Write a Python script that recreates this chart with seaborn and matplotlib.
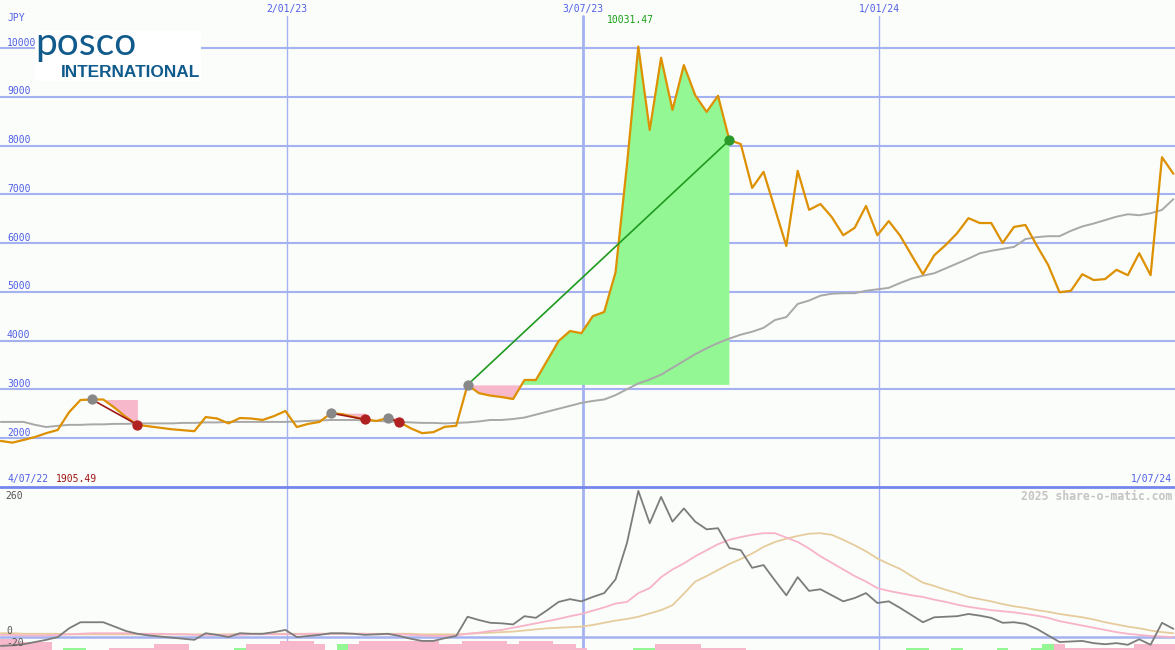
import numpy as np
import pandas as pd
import seaborn as sns
import matplotlib.pyplot as plt
from matplotlib.patches import Rectangle

# weekly closes, POSCO International (JPY)
weeks = pd.date_range('2022-07-10', periods=104, freq='7D')

price = [1940, 1905, 1960, 2020, 2100, 2165, 2530, 2780, 2790, 2790,
         2620, 2430, 2270, 2240, 2210, 2180, 2160, 2140, 2430, 2400,
         2300, 2410, 2400, 2370, 2450, 2555, 2225, 2290, 2330, 2510,
         2490, 2430, 2380, 2350, 2410, 2330, 2200, 2100, 2120, 2230,
         2250, 3090, 2920, 2870, 2840, 2800, 3190, 3190, 3590, 3990,
         4195, 4150, 4500, 4585, 5400, 7600, 10031.47, 8320, 9800, 8730,
         9650, 9030, 8690, 9020, 8110, 8030, 7130, 7460, 6700, 5940,
         7480, 6680, 6800, 6530, 6160, 6310, 6760, 6160, 6450, 6150,
         5750, 5360, 5750, 5960, 6200, 6510, 6410, 6410, 6000, 6330,
         6370, 5950, 5550, 4990, 5020, 5360, 5240, 5260, 5450, 5340,
         5790, 5340, 7760, 7420]

price_ma = [2330, 2330, 2330, 2270, 2225, 2250, 2270, 2270, 2280, 2280,
            2290, 2290, 2300, 2300, 2300, 2300, 2310, 2310, 2320, 2320,
            2330, 2330, 2330, 2330, 2330, 2330, 2340, 2350, 2360, 2370,
            2370, 2370, 2360, 2350, 2340, 2330, 2320, 2310, 2310, 2300,
            2310, 2320, 2340, 2370, 2370, 2390, 2420, 2480, 2540, 2600,
            2660, 2720, 2760, 2790, 2880, 3000, 3120, 3200, 3300, 3440,
            3580, 3720, 3840, 3950, 4040, 4120, 4180, 4260, 4420, 4480,
            4750, 4820, 4920, 4960, 4970, 4970, 5020, 5050, 5080, 5180,
            5270, 5330, 5380, 5480, 5580, 5680, 5790, 5840, 5880, 5920,
            6080, 6120, 6140, 6140, 6250, 6340, 6400, 6470, 6540, 6590,
            6570, 6610, 6680, 6900]

# lower panel indicator and its two averages
mom = [-17, -16, -14, -10, -6, -1, 15, 26, 26, 26,
       18, 10, 5, 2, 0, -2, -4, -6, 6, 3,
       -1, 6, 5, 5, 8, 12, -1, 1, 3, 6,
       6, 5, 3, 4, 5, 1, -4, -8, -8, -3,
       1, 36, 30, 25, 24, 22, 37, 34, 48, 63,
       68, 64, 72, 79, 104, 170, 265, 206, 254, 209,
       233, 209, 195, 197, 161, 157, 125, 130, 102, 75,
       108, 83, 86, 75, 64, 70, 79, 61, 64, 52,
       39, 26, 35, 36, 37, 41, 38, 34, 25, 26,
       23, 14, 2, -10, -9, -8, -12, -14, -12, -15,
       -5, -15, 25, 14]

mom_fast = [3, 3, 2, 2, 2, 3, 4, 5, 6, 6,
            6, 6, 5, 5, 5, 4, 4, 3, 3, 3,
            3, 3, 4, 4, 4, 4, 4, 5, 5, 5,
            5, 5, 5, 4, 4, 4, 3, 2, 1, 1,
            2, 5, 7, 10, 12, 16, 20, 24, 28, 32,
            37, 41, 47, 53, 60, 63, 79, 88, 108, 122,
            133, 146, 157, 168, 176, 181, 185, 188, 188, 180,
            172, 160, 146, 134, 122, 110, 100, 88, 83, 79,
            75, 72, 67, 63, 58, 54, 51, 48, 46, 44,
            41, 38, 34, 28, 24, 20, 16, 12, 8, 5,
            3, 1, 0, -1]

mom_slow = [6, 6, 5, 5, 5, 5, 4, 4, 4, 4,
            4, 4, 4, 4, 4, 4, 4, 4, 4, 4,
            4, 5, 5, 5, 5, 5, 5, 5, 5, 5,
            5, 5, 5, 5, 5, 5, 5, 4, 4, 4,
            4, 5, 6, 7, 8, 9, 11, 13, 15, 16,
            17, 18, 21, 25, 29, 32, 36, 42, 48, 57,
            78, 100, 110, 121, 132, 141, 151, 163, 172, 178,
            183, 187, 188, 185, 176, 166, 155, 142, 132, 123,
            110, 98, 92, 85, 79, 72, 68, 64, 59, 55,
            52, 48, 45, 41, 38, 35, 31, 26, 22, 18,
            15, 11, 8, 6]

# bottom strip blocks: top level and colour (p pink, g green, - none)
vol_top = [-4, -4, -10, -10, -10, None, -20, -20, None, None,
           -20, -20, -20, -20, -14, -14, -14, None, None, None,
           None, -20, -14, -14, -14, -8, -8, -8, -14, None,
           -14, -14, -8, -8, -8, -8, -8, -8, -8, -14,
           -14, -8, -8, -8, -8, -14, -8, -8, -8, -14,
           -14, -20, None, None, None, None, -20, -20, -14, -14,
           -14, -14, -20, -20, -20, -20, None, None, None, None,
           None, None, None, None, None, None, None, None, None, None,
           -20, -20, None, None, -20, None, None, None, -20, None,
           None, -20, -14, -14, -20, -20, -20, -20, -20, -20,
           -14, -14, -14, -14]
vol_col = ('ppppp-gg--pppppppp----pppppppp-ppppppppppppppppppppppp----'
           'pppppppppp--------------pp--g---g--ppppppppppppp')

trades = [(8, 12), (29, 32), (34, 35), (41, 64)]

grid_levels = [2000, 3000, 4000, 5000, 6000, 7000, 8000, 9000, 10000]
tick_dates = ['2023-01-02', '2023-07-03', '2024-01-01']
tick_labels = ['2/01/23', '3/07/23', '1/01/24']

W, H = 1175, 650
BG = '#fbfdfa'
GRID = '#a4b2f2'
BLUE_TXT = '#4f5fe6'
PINK_FILL = '#f8b8cc'
GREEN_FILL = '#93f793'


def fx(px):
    return px / W


def fy(py):
    return 1 - py / H


sns.set_style('white')
plt.rcParams['font.family'] = ['DejaVu Sans Mono', 'DejaVu Sans']

fig = plt.figure(figsize=(W / 100, H / 100), dpi=100)
fig.patch.set_facecolor(BG)
ax = fig.add_axes([0, fy(487), 1, 487 / H])
ax2 = fig.add_axes([0, 0, 1, fy(487)])

xlim = (pd.Timestamp('2022-07-09 12:00'), pd.Timestamp('2024-07-01'))
for a in (ax, ax2):
    a.set_facecolor(BG)
    a.set_xlim(*xlim)
    a.set_xticks([])
    a.set_yticks([])
    for s in a.spines.values():
        s.set_visible(False)

ax.set_ylim(995, 10985)
ax2.set_ylim(-24.5, 272)

# grid
for lv in grid_levels:
    ax.axhline(lv, color=GRID, lw=1.5, zorder=0)
    ax.annotate(str(lv), xy=(0, lv), xycoords=('axes fraction', 'data'),
                xytext=(5, 3.8), textcoords='offset points', va='center',
                fontsize=7, color=BLUE_TXT)
for d, lab in zip(tick_dates, tick_labels):
    lw = 2.0 if lab == '3/07/23' else 1.0
    ax.axvline(pd.Timestamp(d), ymax=(487 - 16) / 487, color=GRID, lw=lw, zorder=0)
    ax2.axvline(pd.Timestamp(d), color=GRID, lw=lw, zorder=0)
    ax.annotate(lab, xy=(pd.Timestamp(d), 1), xycoords=('data', 'axes fraction'),
                xytext=(0, -6.5), textcoords='offset points', ha='center',
                va='center', fontsize=7, color=BLUE_TXT)

# trades
price_s = pd.Series(price, index=weeks)
for e, x in trades:
    seg = price_s.iloc[e:x + 1]
    entry = price[e]
    ax.fill_between(seg.index, entry, seg.values, where=seg.values < entry,
                    interpolate=True, color=PINK_FILL, lw=0, zorder=1)
    ax.fill_between(seg.index, entry, seg.values, where=seg.values >= entry,
                    interpolate=True, color=GREEN_FILL, lw=0, zorder=1)

sns.lineplot(x=weeks, y=price_ma, ax=ax, color='#a8a8a8', lw=1.4, zorder=2)
sns.lineplot(x=weeks, y=price, ax=ax, color='#dd9000', lw=1.6, zorder=3)

for e, x in trades:
    win = price[x] > price[e]
    c = '#1f9a1f' if win else '#a01818'
    ax.plot([weeks[e], weeks[x]], [price[e], price[x]], color=c, lw=1.2, zorder=4)
    ax.scatter([weeks[e]], [price[e]], s=55, color='#888888', zorder=5, lw=0)
    ax.scatter([weeks[x]], [price[x]], s=55, color='#2a9a2a' if win else '#b02222',
               zorder=5, lw=0)

# lower panel
ax2.axhline(0, color=GRID, lw=1.8, zorder=0)
for i, (t, c) in enumerate(zip(vol_top, vol_col)):
    if t is None:
        continue
    ax2.bar(weeks[i], t + 24.5, bottom=-24.5, width=7, align='center',
            color=PINK_FILL if c == 'p' else GREEN_FILL, lw=0, zorder=1)
sns.lineplot(x=weeks, y=mom_slow, ax=ax2, color='#e6cc9c', lw=1.3, zorder=2)
sns.lineplot(x=weeks, y=mom_fast, ax=ax2, color='#f7b3c8', lw=1.3, zorder=2)
sns.lineplot(x=weeks, y=mom, ax=ax2, color='#7c7c7c', lw=1.3, zorder=3)

# panel divider
fig.add_artist(plt.Line2D([0, 1], [fy(487), fy(487)], transform=fig.transFigure,
                          color='#7486ec', lw=2))

# texts
fig.text(fx(7), fy(18), 'JPY', fontsize=7, color=BLUE_TXT, va='center')
fig.text(fx(630), fy(20), '10031.47', fontsize=7, color='#16a016', va='center',
         ha='center')
fig.text(fx(7), fy(479), '4/07/22', fontsize=7, color=BLUE_TXT, va='center')
fig.text(fx(56), fy(479), '1905.49', fontsize=7, color='#a01414', va='center')
fig.text(fx(1172), fy(479), '1/07/24', fontsize=7, color=BLUE_TXT, va='center',
         ha='right')
fig.text(fx(5), fy(496), '260', fontsize=7, color='#555555', va='center')
fig.text(fx(6), fy(631), '0', fontsize=7, color='#555555', va='center')
fig.text(fx(6), fy(643), '-20', fontsize=7, color='#555555', va='center')
fig.text(fx(1172), fy(496), '2025 share-o-matic.com', fontsize=8.3,
         color='#c4c4c4', va='center', ha='right', weight='bold')

# logo
fig.add_artist(Rectangle((fx(35), fy(81)), fx(166), 50 / H, transform=fig.transFigure,
                         facecolor='white', edgecolor='none', zorder=5))
fig.text(fx(35), fy(55), 'posco', fontsize=28, color='#105a8c', va='baseline',
         family='Lato', zorder=6)
fig.text(fx(61), fy(77), 'INTERNATIONAL', fontsize=12.4, color='#105a8c',
         va='baseline', family='Liberation Sans', weight='bold', zorder=6)

fig.savefig('out.png', dpi=100, facecolor=BG)
